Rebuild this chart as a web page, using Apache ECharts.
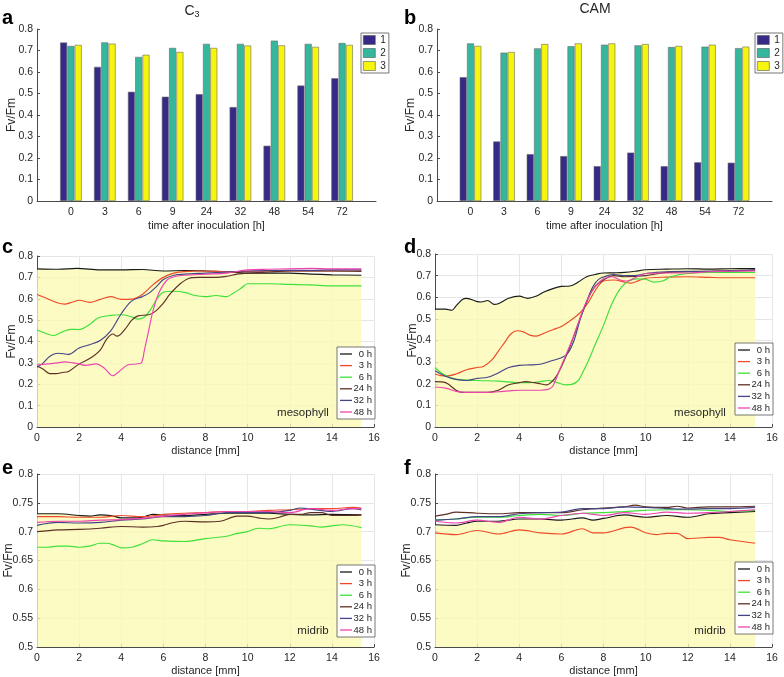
<!DOCTYPE html>
<html><head><meta charset="utf-8">
<script src="https://cdn.jsdelivr.net/npm/echarts/dist/echarts.min.js"></script>
<style>html,body{margin:0;padding:0;background:#fff}#chart{width:784px;height:677px}</style>
</head><body><div id="chart"></div>
<script>
// ---------- DATA ----------
const timeCats = ['0','3','6','9','24','32','48','54','72'];
const barNames = ['1','2','3'];
const a_s1 = [0.737,0.624,0.508,0.485,0.497,0.437,0.257,0.537,0.571];
const a_s2 = [0.721,0.738,0.670,0.712,0.731,0.731,0.746,0.731,0.735];
const a_s3 = [0.726,0.732,0.680,0.693,0.712,0.723,0.724,0.717,0.726];
const b_s1 = [0.576,0.277,0.218,0.209,0.162,0.225,0.162,0.180,0.178];
const b_s2 = [0.733,0.690,0.710,0.720,0.727,0.724,0.716,0.718,0.711];
const b_s3 = [0.721,0.693,0.730,0.733,0.733,0.730,0.721,0.727,0.718];

const hours = ['0 h','3 h','6 h','24 h','32 h','48 h'];

// panel c (C3 mesophyll)
const c_0h = [[0,0.74],[1,0.738],[1.9,0.742],[3,0.735],[4,0.735],[5,0.737],[6,0.73],[7,0.732],[8,0.73],[9,0.726],[10,0.72],[11,0.72],[12,0.72],[13,0.715],[14,0.712],[15.4,0.71]];
const c_3h = [[0,0.62],[0.5,0.6],[1,0.58],[1.3,0.575],[1.7,0.585],[2,0.593],[2.5,0.583],[3,0.597],[3.5,0.61],[4,0.597],[4.5,0.598],[5,0.62],[5.5,0.665],[6,0.70],[6.5,0.72],[7,0.727],[8,0.73],[9,0.726],[10,0.728],[12,0.73],[14,0.73],[15.4,0.73]];
const c_6h = [[0,0.455],[0.5,0.435],[0.8,0.428],[1.2,0.445],[1.6,0.457],[2,0.456],[2.5,0.48],[2.9,0.51],[3.5,0.522],[4,0.525],[4.5,0.515],[4.8,0.505],[5.1,0.515],[5.4,0.55],[5.7,0.6],[6,0.63],[6.5,0.635],[7,0.63],[7.5,0.615],[8,0.61],[8.5,0.615],[9,0.61],[9.3,0.625],[9.7,0.65],[10,0.67],[11,0.67],[12,0.667],[13,0.665],[14,0.66],[15.4,0.66]];
const c_24h = [[0,0.285],[0.3,0.27],[0.6,0.25],[0.9,0.25],[1.2,0.255],[1.5,0.26],[2,0.295],[2.5,0.32],[3,0.36],[3.3,0.41],[3.6,0.435],[3.8,0.425],[4.2,0.46],[4.5,0.5],[4.8,0.52],[5.3,0.525],[5.6,0.54],[6,0.58],[6.3,0.62],[6.8,0.67],[7.2,0.695],[7.7,0.70],[8.5,0.70],[9,0.705],[9.5,0.715],[10,0.72],[11,0.725],[12,0.73],[13,0.73],[14,0.73],[15.4,0.728]];
const c_32h = [[0,0.28],[0.3,0.30],[0.6,0.33],[1,0.345],[1.5,0.34],[2,0.37],[2.5,0.385],[3,0.405],[3.5,0.45],[4,0.53],[4.5,0.59],[5,0.61],[5.3,0.625],[5.7,0.66],[6,0.69],[6.5,0.71],[7,0.715],[8,0.72],[9,0.725],[10,0.73],[11,0.732],[12,0.733],[13,0.733],[14,0.735],[15.4,0.735]];
const c_48h = [[0,0.29],[0.5,0.295],[1,0.30],[1.3,0.305],[1.7,0.30],[2,0.295],[2.3,0.288],[2.8,0.295],[3.2,0.275],[3.6,0.24],[3.9,0.26],[4.3,0.29],[4.7,0.295],[4.95,0.30],[5.1,0.36],[5.3,0.45],[5.5,0.54],[5.8,0.63],[6.2,0.69],[6.6,0.705],[7,0.71],[8,0.715],[9,0.72],[10,0.735],[11,0.738],[12,0.74],[13,0.742],[14,0.74],[15.4,0.74]];

// panel d (CAM mesophyll)
const d_0h = [[0,0.545],[0.5,0.545],[0.8,0.54],[1,0.56],[1.3,0.59],[1.5,0.595],[2,0.58],[2.2,0.578],[2.5,0.585],[2.8,0.567],[3,0.57],[3.5,0.595],[4,0.605],[4.4,0.595],[4.8,0.605],[5.2,0.625],[5.6,0.64],[6,0.65],[6.4,0.652],[6.8,0.67],[7.2,0.695],[7.6,0.705],[8,0.712],[8.5,0.713],[9,0.715],[9.5,0.72],[10,0.727],[11,0.73],[12,0.732],[13,0.73],[14,0.732],[15.2,0.733]];
const d_3h = [[0,0.245],[0.5,0.235],[1,0.245],[1.5,0.265],[2,0.275],[2.3,0.28],[2.7,0.31],[3,0.35],[3.3,0.39],[3.6,0.43],[3.9,0.445],[4.2,0.44],[4.5,0.425],[4.8,0.42],[5.2,0.435],[5.6,0.45],[6,0.465],[6.4,0.49],[6.8,0.52],[7,0.54],[7.3,0.58],[7.6,0.63],[8,0.675],[8.5,0.68],[9,0.67],[9.3,0.665],[9.7,0.678],[10,0.688],[11,0.693],[12,0.695],[13,0.692],[14,0.69],[15.2,0.69]];
const d_6h = [[0,0.275],[0.3,0.25],[0.7,0.23],[1,0.22],[2,0.215],[3,0.212],[4,0.205],[4.5,0.205],[5,0.21],[5.4,0.215],[5.8,0.205],[6.2,0.195],[6.5,0.197],[6.8,0.215],[7,0.25],[7.3,0.31],[7.6,0.38],[8,0.47],[8.4,0.57],[8.8,0.64],[9.2,0.675],[9.6,0.685],[10,0.683],[10.4,0.67],[10.8,0.675],[11.2,0.695],[12,0.71],[13,0.715],[14,0.715],[15.2,0.715]];
const d_24h = [[0,0.21],[0.5,0.205],[1,0.17],[1.3,0.16],[2,0.16],[2.5,0.16],[3,0.17],[3.5,0.195],[4,0.205],[4.3,0.21],[4.7,0.205],[5,0.2],[5.3,0.195],[5.6,0.215],[5.8,0.24],[6.1,0.3],[6.4,0.37],[6.7,0.45],[7,0.53],[7.3,0.6],[7.6,0.65],[8,0.68],[8.5,0.7],[9,0.695],[10,0.7],[11,0.715],[12,0.718],[13,0.72],[14,0.722],[15.2,0.725]];
const d_32h = [[0,0.26],[0.5,0.235],[1,0.22],[1.5,0.215],[2,0.225],[2.5,0.23],[3,0.25],[3.5,0.275],[4,0.285],[4.5,0.287],[5,0.29],[5.5,0.305],[6,0.32],[6.3,0.34],[6.6,0.40],[6.9,0.50],[7.2,0.58],[7.5,0.65],[7.8,0.685],[8.2,0.70],[8.5,0.705],[9,0.70],[9.5,0.70],[10,0.71],[10.5,0.715],[11,0.718],[12,0.72],[13,0.72],[14,0.722],[15.2,0.728]];
const d_48h = [[0,0.185],[0.5,0.18],[1,0.165],[1.5,0.16],[2,0.16],[2.5,0.16],[3,0.163],[3.5,0.167],[4,0.17],[4.5,0.17],[5,0.17],[5.4,0.175],[5.6,0.19],[5.9,0.26],[6.2,0.33],[6.5,0.40],[6.8,0.48],[7.1,0.56],[7.4,0.62],[7.7,0.66],[8,0.685],[8.4,0.695],[8.8,0.68],[9.1,0.675],[9.5,0.69],[10,0.71],[11,0.712],[12,0.712],[13,0.718],[14,0.72],[15.2,0.722]];

// panel e (C3 midrib)
const e_0h = [[0,0.731],[1,0.731],[2,0.728],[2.5,0.727],[3,0.729],[3.5,0.728],[4,0.724],[4.5,0.724],[5,0.725],[5.5,0.73],[6,0.729],[7,0.728],[8,0.73],[9,0.732],[10,0.732],[11,0.732],[12,0.73],[13,0.729],[14,0.73],[15.4,0.729]];
const e_3h = [[0,0.726],[1,0.726],[2,0.725],[3,0.725],[4,0.728],[5,0.726],[6,0.73],[7,0.732],[8,0.733],[9,0.735],[10,0.735],[11,0.737],[12,0.738],[13,0.74],[14,0.74],[15,0.742],[15.4,0.741]];
const e_6h = [[0,0.673],[0.5,0.673],[1,0.675],[1.5,0.675],[2,0.673],[2.5,0.675],[3,0.68],[3.3,0.68],[3.7,0.676],[4,0.672],[4.5,0.673],[5,0.679],[5.5,0.686],[6,0.684],[7,0.683],[8,0.688],[9,0.692],[9.5,0.697],[10,0.7],[10.5,0.706],[11,0.705],[12,0.712],[13,0.71],[13.5,0.708],[14,0.71],[14.5,0.712],[15.4,0.707]];
const e_24h = [[0,0.70],[1,0.703],[2,0.704],[3,0.706],[4,0.709],[5,0.708],[5.7,0.709],[6,0.711],[6.5,0.716],[7,0.718],[8,0.717],[8.7,0.718],[9.5,0.727],[10,0.727],[10.5,0.724],[11,0.722],[11.5,0.725],[12,0.73],[12.5,0.73],[13,0.733],[13.5,0.733],[14,0.728],[15,0.728],[15.4,0.729]];
const e_32h = [[0,0.711],[1,0.716],[2,0.715],[3,0.716],[4,0.72],[5,0.722],[6,0.726],[7,0.726],[8,0.728],[9,0.733],[10,0.733],[11,0.733],[12,0.737],[12.5,0.741],[13,0.739],[14,0.735],[15,0.74],[15.4,0.738]];
const e_48h = [[0,0.716],[1,0.718],[2,0.718],[3,0.72],[4,0.721],[5,0.723],[6,0.727],[7,0.73],[8,0.733],[9,0.735],[10,0.735],[11,0.735],[12,0.733],[13,0.74],[14,0.737],[15,0.74],[15.4,0.74]];

// panel f (CAM midrib)
const f_0h = [[0,0.712],[1,0.711],[1.5,0.715],[2,0.718],[3,0.718],[4,0.722],[5,0.722],[6,0.72],[7,0.724],[7.5,0.72],[8,0.723],[9,0.729],[10,0.725],[11,0.728],[12,0.725],[13,0.731],[14,0.733],[15.2,0.735]];
const f_3h = [[0,0.698],[1,0.695],[2,0.702],[3,0.696],[4,0.703],[5,0.698],[6,0.696],[7,0.705],[7.5,0.698],[8,0.698],[9,0.707],[9.3,0.708],[10,0.698],[10.5,0.695],[11,0.697],[11.5,0.697],[12,0.688],[12.5,0.689],[13,0.69],[13.5,0.69],[14,0.686],[15.2,0.68]];
const f_6h = [[0,0.72],[1,0.722],[2,0.725],[3,0.725],[4,0.728],[5,0.73],[6,0.728],[7,0.732],[8,0.733],[9,0.735],[10,0.737],[11,0.738],[12,0.738],[13,0.737],[14,0.735],[15.2,0.737]];
const f_24h = [[0,0.727],[0.5,0.73],[1,0.734],[2,0.732],[3,0.731],[4,0.733],[5,0.733],[6,0.733],[7,0.738],[8,0.741],[9,0.743],[9.5,0.746],[10,0.743],[11,0.742],[11.5,0.744],[12,0.741],[13,0.743],[14,0.743],[15.2,0.744]];
const f_32h = [[0,0.72],[1,0.722],[2,0.726],[3,0.726],[4,0.731],[5,0.733],[6,0.734],[7,0.74],[8,0.74],[9,0.743],[10,0.742],[11,0.74],[12,0.739],[13,0.74],[14,0.74],[15.2,0.742]];
const f_48h = [[0,0.718],[1,0.715],[2,0.72],[3,0.716],[4,0.725],[5,0.722],[6,0.728],[7,0.732],[8,0.728],[9,0.733],[10,0.73],[11,0.734],[12,0.732],[13,0.733],[14,0.735],[15.2,0.738]];

// ---------- STYLE ----------
const FONT = '"Liberation Sans", Arial, sans-serif';
const barColors = ['#352a87','#35b79e','#f5f50e'];
const hourColors = ['#1a1a1a','#ee4a2a','#3ee03a','#5e3024','#454585','#ee44b0'];
const fillColor = 'rgba(250,250,178,0.78)';
const axisCol = '#4a4a4a';
const txtCol = '#262626';

const grids = [
  {left:37, top:29, width:339, height:172},
  {left:437, top:29, width:335, height:172},
  {left:37, top:256, width:337, height:171},
  {left:435, top:254, width:337, height:173},
  {left:37, top:474, width:337, height:173},
  {left:435, top:474, width:337, height:173}
].map(g => Object.assign(g, {outerBoundsMode:'none', containLabel:false}));

const padCats = [''].concat(timeCats, ['']);
const pad = arr => [null].concat(arr, [null]);

function commonAxis(){
  return {
    nameMoveOverlap:false,
    axisLine:{show:true, lineStyle:{color:axisCol, width:1}},
    axisTick:{show:true, inside:true, length:3, lineStyle:{color:axisCol}},
    axisLabel:{color:txtCol, fontSize:10.5, fontFamily:FONT},
    nameTextStyle:{color:txtCol, fontSize:11, fontFamily:FONT},
  };
}

const yNameGaps = [19, 20, 19, 16, 22, 22];
const xAxes = [], yAxes = [];
for (let i=0;i<2;i++){
  const xa = commonAxis();
  Object.assign(xa, {gridIndex:i, type:'category', boundaryGap:false, data:padCats,
    name:'time after inoculation [h]', nameLocation:'middle', nameGap:19,
    splitLine:{show:false}});
  xa.axisTick.interval = (idx, v) => v !== '';
  xa.axisLabel.interval = 0;
  xa.axisLabel.margin = 6;
  xAxes.push(xa);
  const ya = commonAxis();
  Object.assign(ya, {gridIndex:i, type:'value', min:0, max:0.8, interval:0.1,
    name:'Fv/Fm', nameLocation:'middle', nameGap:yNameGaps[i], splitLine:{show:false}});
  ya.axisLabel.margin = 4;
  ya.nameTextStyle.fontSize = 12;
  yAxes.push(ya);
}
for (let i=2;i<6;i++){
  const xa = commonAxis();
  Object.assign(xa, {gridIndex:i, type:'value', min:0, max:16, interval:2,
    name:'distance [mm]', nameLocation:'middle', nameGap:18,
    splitLine:{show:true, lineStyle:{color:'#e6e6e6', width:1}}});
  xa.axisLabel.margin = 6;
  xAxes.push(xa);
  const mid = i>=4;
  const ya = commonAxis();
  Object.assign(ya, {gridIndex:i, type:'value', min: mid?0.5:0, max:0.8, interval: mid?0.05:0.1,
    name:'Fv/Fm', nameLocation:'middle', nameGap: yNameGaps[i],
    splitLine:{show:true, lineStyle:{color:'#e6e6e6', width:1}}});
  ya.axisLabel.margin = 4;
  ya.nameTextStyle.fontSize = 12;
  yAxes.push(ya);
}

const series = [];
[[a_s1,a_s2,a_s3],[b_s1,b_s2,b_s3]].forEach((sets, gi) => {
  sets.forEach((vals, k) => {
    series.push({type:'bar', name:barNames[k], xAxisIndex:gi, yAxisIndex:gi,
      data:pad(vals), barWidth:7, barGap:'4%', color:barColors[k],
      itemStyle:{color:barColors[k], borderColor:'#6a6a6a', borderWidth:0.6}});
  });
});
const panels = [
  [c_0h,c_3h,c_6h,c_24h,c_32h,c_48h],
  [d_0h,d_3h,d_6h,d_24h,d_32h,d_48h],
  [e_0h,e_3h,e_6h,e_24h,e_32h,e_48h],
  [f_0h,f_3h,f_6h,f_24h,f_32h,f_48h]
];
panels.forEach((sets, p) => {
  const gi = p + 2;
  sets.forEach((vals, k) => {
    const s = {type:'line', name:hours[k], xAxisIndex:gi, yAxisIndex:gi, data:vals,
      symbol:'none', smooth:0.35, color:hourColors[k],
      lineStyle:{color:hourColors[k], width:1.15}, z: k===0 ? 2 : 3};
    if (k===0) s.areaStyle = {color:fillColor, opacity:1, origin:'start'};
    series.push(s);
  });
});

function barLegend(left, top){
  return {data:barNames, orient:'vertical', left, top, icon:'rect', itemWidth:12, itemHeight:9,
    itemGap:3, padding:[2,3,2,2], backgroundColor:'#fff', borderColor:'#555', borderWidth:0.8,
    selectedMode:false, itemStyle:{borderColor:'#555', borderWidth:0.6},
    textStyle:{fontSize:10, color:txtCol, fontFamily:FONT}};
}
function lineLegend(left, top){
  return {data:hours, orient:'vertical', left, top, icon:'rect', itemWidth:12, itemHeight:1.3,
    itemGap:1.6, padding:[2,3,2,3], backgroundColor:'#fff', borderColor:'#555', borderWidth:0.8,
    selectedMode:false,
    formatter: n => '{r|' + n + '}',
    textStyle:{fontSize:9.5, color:txtCol, fontFamily:FONT, lineHeight:10,
      rich:{r:{width:15, align:'right', fontSize:9.5, lineHeight:10, fontFamily:FONT, color:txtCol}}}};
}

const letter = (t, x, y) => ({type:'text', left:x, top:y, z:100,
  style:{text:t, fontSize:20, fontWeight:'bold', fill:'#000', fontFamily:FONT}});
const note = (t, x, y) => ({type:'text', x, y, z:100,
  style:{text:t, fontSize:11.5, fill:txtCol, fontFamily:FONT, align:'center', verticalAlign:'middle'}});

const option = {
  animation:false,
  backgroundColor:'#fff',
  grid: grids,
  xAxis: xAxes,
  yAxis: yAxes,
  series,
  legend:[barLegend(361,33), barLegend(755,33),
    lineLegend(337,347), lineLegend(735,343), lineLegend(337,565), lineLegend(735,562)],
  graphic:[
    letter('a',2,8), letter('b',404,8), letter('c',2,237), letter('d',404,237),
    letter('e',2,458), letter('f',404,458),
    {type:'text', x:192, y:11, z:100, style:{text:'{c|C}{s|3}', align:'center', verticalAlign:'middle',
      rich:{c:{fontSize:14, fontFamily:FONT, fill:txtCol}, s:{fontSize:9, fontFamily:FONT, fill:txtCol, padding:[8,0,0,0]}}}},
    {type:'text', x:595, y:9, z:100, style:{text:'CAM', fontSize:14, fill:txtCol, fontFamily:FONT, align:'center', verticalAlign:'middle'}},
    note('mesophyll',303,413), note('mesophyll',700,413), note('midrib',313,631), note('midrib',710,631)
  ]
};

const chart = echarts.init(document.getElementById('chart'), null, {renderer:'canvas'});
chart.setOption(option);
</script></body></html>
